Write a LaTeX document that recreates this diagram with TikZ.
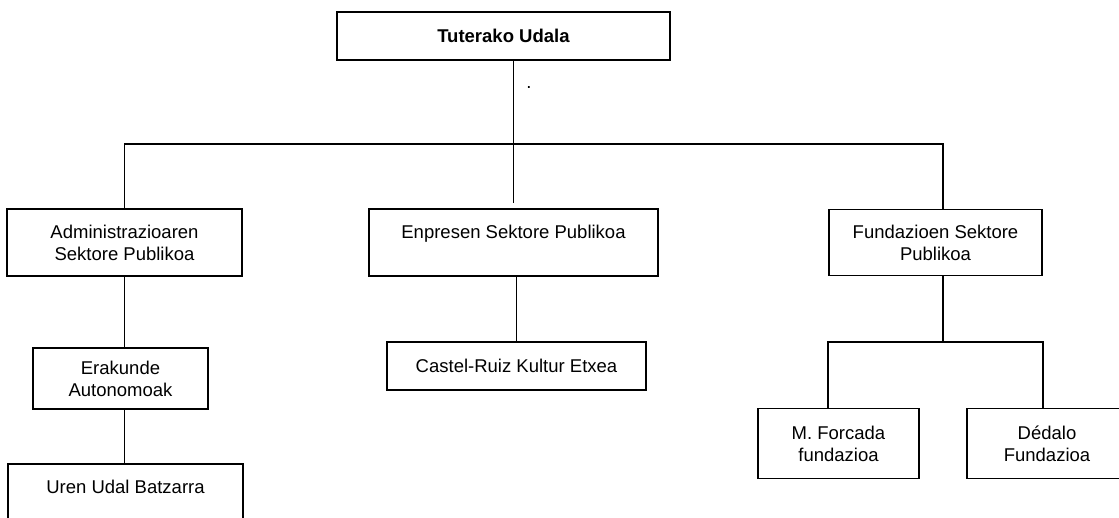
\documentclass[tikz,border=0pt]{standalone}
\usepackage{fontspec}
\setmainfont{Liberation Sans}
\usepackage{tikz}
\tikzset{every node/.append style={font=\fontsize{18.5}{22}\selectfont}}

\begin{document}
\begin{tikzpicture}[-,line width=1.6pt,node distance=200pt]
  \tikzstyle{unit}=[draw=black,fill=white,align=center,inner sep=0pt,text=black]

  \useasboundingbox (0,0) rectangle (1119pt,-518pt);
  \clip (0,0) rectangle (1119pt,-518pt);

  \node[unit,minimum width=333pt,minimum height=48pt] (top) at (503.5pt,-36pt) {\textbf{Tuterako Udala}};
  \node[unit,minimum width=289pt,minimum height=67pt,node distance=206.5pt] (enp) [below of=top,xshift=10pt] {Enpresen Sektore Publikoa\\ \mbox{}};
  \node[unit,minimum width=235pt,minimum height=67pt,node distance=389pt] (adm) [left of=enp] {Administrazioaren\\ Sektore Publikoa};
  \node[unit,minimum width=213pt,minimum height=66pt,node distance=422pt] (fun) [right of=enp] {Fundazioen Sektore\\ Publikoa};
  \node[unit,minimum width=175pt,minimum height=61pt,node distance=136pt] (era) [below of=adm,xshift=-4pt] {Erakunde\\ Autonomoak};
  \node[unit,minimum width=235pt,minimum height=67pt,node distance=119pt] (uren) [below of=era,xshift=5pt] {Uren Udal Batzarra\\ \mbox{}};
  \node[unit,minimum width=259pt,minimum height=48pt,node distance=123.5pt] (cas) [below of=enp,xshift=3pt] {Castel-Ruiz Kultur Etxea};
  \node[unit,minimum width=161pt,minimum height=70pt,node distance=201pt] (mfo) [below of=fun,xshift=-97pt] {M. Forcada\\ fundazioa};
  \node[unit,minimum width=160pt,minimum height=70pt,node distance=208.5pt] (ded) [right of=mfo] {Dédalo\\ Fundazioa};
  \node[node distance=52pt] (dot) [below of=top,xshift=25.5pt] {.};

  \coordinate (bus) at ([yshift=-83pt]top.south);
  \coordinate (fbus) at ([yshift=-66pt]fun.south);

  \draw (top.south -| enp.north) -- ([yshift=5pt]enp.north);
  \draw (adm.north) -- (adm.north |- bus) -- ([xshift=7.5pt]fun.north |- bus) -- ([xshift=7.5pt]fun.north);
  \draw (adm.south) -- (adm.south |- era.north);
  \draw (adm.south |- era.south) -- (adm.south |- uren.north);
  \draw (cas.north |- enp.south) -- (cas.north);
  \draw ([xshift=7.5pt]fun.south) -- ([xshift=7.5pt]fun.south |- fbus);
  \draw (mfo.north -| fun.west) -- (fbus -| fun.west) -- (fbus -| fun.east) -- (ded.north -| fun.east);
\end{tikzpicture}
\end{document}
